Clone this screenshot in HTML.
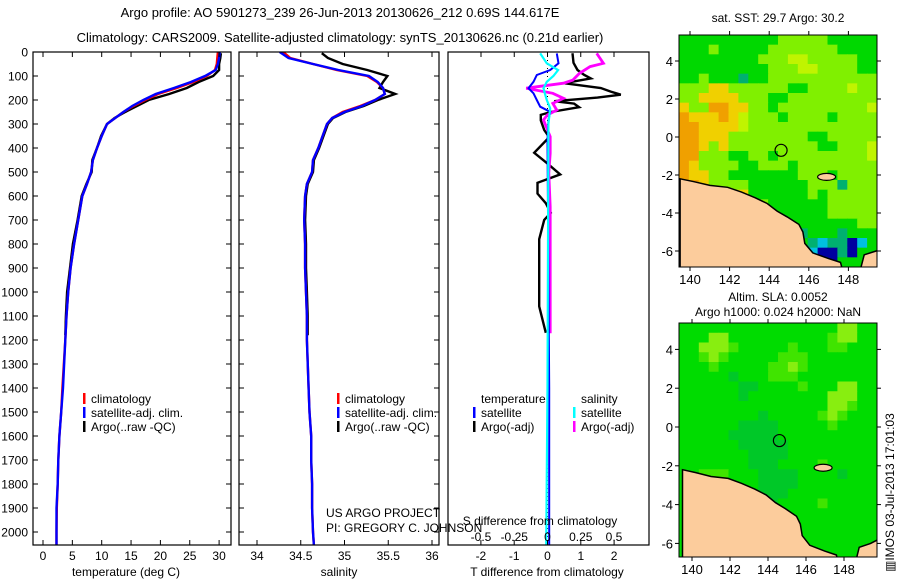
<!DOCTYPE html>
<html><head><meta charset="utf-8">
<style>
html,body{margin:0;padding:0;background:#fff;}
svg{display:block;font-family:"Liberation Sans",sans-serif;}
text{fill:#000;}
</style></head>
<body>
<svg id="fig" width="900" height="580" viewBox="0 0 900 580" xmlns="http://www.w3.org/2000/svg">
<defs>
<clipPath id="c1"><rect x="33" y="52" width="198" height="493"/></clipPath>
<clipPath id="c2"><rect x="239" y="52" width="200" height="493"/></clipPath>
<clipPath id="c3"><rect x="448" y="52" width="201" height="493"/></clipPath>
<clipPath id="cm1"><rect x="679" y="35" width="198" height="232"/></clipPath>
<clipPath id="cm2"><rect x="679" y="323" width="198" height="234"/></clipPath>
</defs>
<text x="340" y="17" font-size="13" text-anchor="middle">Argo profile: AO 5901273_239 26-Jun-2013 20130626_212 0.69S 144.617E</text>
<text x="340" y="42" font-size="13" text-anchor="middle">Climatology: CARS2009. Satellite-adjusted climatology: synTS_20130626.nc (0.21d earlier)</text>
<text x="778" y="22" font-size="12" text-anchor="middle">sat. SST: 29.7 Argo: 30.2</text>
<text x="778" y="301" font-size="12" text-anchor="middle">Altim. SLA: 0.0052</text>
<text x="778" y="316" font-size="12" text-anchor="middle">Argo h1000: 0.024 h2000: NaN</text>
<text transform="translate(894,572) rotate(-90)" font-size="12">▥IMOS 03-Jul-2013 17:01:03</text>
<g id="g1"></g>
<g id="g2"></g>
<g id="g3"></g>
<g id="m1"></g>
<g id="m2"></g>
</svg>
<script>
const climDepth=[0,25,50,75,100,125,150,175,200,225,250,275,300,350,400,450,500,550,600,700,800,900,1000,1100,1200,1400,1500,1600,1700,1800,1900,2000,2055];
const climT=[29.8,29.7,29.6,29.3,27.9,25.6,22.8,19.6,17.4,15.4,13.7,12.3,10.9,10.0,9.2,8.5,8.2,7.5,6.7,6.0,5.3,4.7,4.3,4.0,3.8,3.3,3.1,2.8,2.6,2.5,2.35,2.3,2.3];
const satT=[30.1,30.0,29.8,29.4,27.6,25.2,22.3,19.2,17.1,15.2,13.7,12.3,10.9,10.0,9.2,8.5,8.2,7.5,6.7,6.0,5.3,4.7,4.3,4.0,3.8,3.4,3.1,2.8,2.6,2.5,2.3,2.3,2.3];
const climS=[34.30,34.38,34.64,34.91,35.26,35.37,35.44,35.46,35.35,35.18,34.98,34.86,34.80,34.75,34.70,34.64,34.63,34.57,34.55,34.54,34.55,34.55,34.56,34.57,34.57,34.59,34.60,34.62,34.62,34.63,34.63,34.64,34.65];
const satS=[34.26,34.36,34.64,34.93,35.28,35.38,35.44,35.46,35.35,35.20,35.00,34.86,34.80,34.75,34.70,34.64,34.63,34.57,34.55,34.54,34.55,34.55,34.56,34.57,34.57,34.59,34.60,34.62,34.62,34.63,34.63,34.64,34.65];
const argoDepth=[5,25,50,75,100,125,150,175,200,225,250,275,300,350,400,450,500,550,600,700,800,900,1000,1100,1180];
const argoT=[30.3,30.2,30.0,30.0,29.0,26.5,24.5,21.5,18.0,16.0,14.0,12.2,10.9,9.9,9.2,8.4,8.3,7.4,6.6,5.9,5.1,4.6,4.1,3.9,3.8];
const argoS=[34.74,34.81,34.98,35.26,35.49,35.44,35.40,35.58,35.38,35.22,35.01,34.87,34.81,34.76,34.71,34.65,34.64,34.58,34.56,34.55,34.56,34.56,34.57,34.58,34.58];
const tdDepth=[5,45,75,95,110,130,150,165,178,190,205,215,230,250,262,285,325,355,420,465,510,545,590,630,670,700,780,920,1060,1170];
const tdArgo=[0.75,0.78,0.9,1.1,1.3,0.5,1.6,1.9,2.2,1.5,0.2,0.8,0.95,0.1,-0.2,-0.2,-0.1,0.05,-0.4,0.0,0.38,-0.3,-0.3,-0.05,0.1,-0.1,-0.25,-0.25,-0.25,-0.05];
const sdDepth=[6,47,61,89,117,130,151,172,193,214,242,262,283,325,353,422,505,644,783,1172];
const sdArgo=[0.37,0.42,0.32,0.24,0.19,0.12,-0.16,0.04,0.12,0.04,0.07,0.0,-0.03,0.0,0.02,0.02,0.01,0.02,0.02,0.02];
const tsDepth=[6,47,75,96,124,151,172,200,228,249,283,367,1400,2055];
const tdSat=[0.28,0.33,0.08,-0.32,-0.42,-0.57,-0.42,-0.32,-0.22,0.08,0.03,0.0,0.05,0.05];
const ssDepth=[6,47,75,100,124,151,172,200,235,300,1400,2055];
const sdSat=[-0.055,-0.005,0.08,0.044,-0.005,-0.03,-0.02,-0.005,0.02,0.007,0.0,-0.01];
const depthTicks=[0,100,200,300,400,500,600,700,800,900,1000,1100,1200,1300,1400,1500,1600,1700,1800,1900,2000];
const tTicks=[0,5,10,15,20,25,30];
const sTicks=[34,34.5,35,35.5,36];
const sTickLabels=['34','34.5','35','35.5','36'];
const tdTicks=[-2,-1,0,1,2];
const sdTicks=[-0.5,-0.25,0,0.25,0.5];
const sdTickLabels=['-0.5','-0.25','0','0.25','0.5'];
const latTicks=[4,2,0,-2,-4,-6];
const lonTicks=[140,142,144,146,148];
const sstGrid=["gggggggggglllllggggg","ggglggggglllllllgggg","gggggggglllyylllllgg","ggggggggglllyyllllgg","gglgggtgglllllllllll","lllYYllllllggllllyll","llYYYYlllgglllllllll","YllooYYllgllllllllly","oYYYoYylllgllllgllll","ooYYYYylllllllllllll","ooYYYllllllllgglllll","ooYlYlllllllllggllly","oolllggllgllllllllly","oYllllgglllgllllllll","oYYllggggggglllgllll","ooYllllggggggllltlll","YYYooYYgggggglglllll","lllYooYYlgggggglllll","lllllYYYlgggggglllll","llllllllggtgggggggll","lllllllllgggtgggtggg","lllllllllggggtcttbcg","lllllllllgggtcbbtbgg","lllllllllggggggbgggg"];
const slaGrid=["ggggggggggggggggLLgg","gggLLgggggggggglLLgg","ggLLLlggggglgggllggg","gglLlggggglllgggggg","ggglgggggllLlggggggg","gggggdggglllgggggggg","ggggggddgggglgggLLgg","ggggggdggggggggLLLgg","gggggggggggggggLLlgg","ggggggggdggggglLlggg","ggggggddddggggglgggg","gggggdddddgggggggggg","ggggggdddddggggggggg","gggggggddddggggggggg","gggggggdddgggglggggg","gglllgggddddggggdggg","gllLlgggddddgggggggg","ggllggggdddggggggggg","gggggggdddgggglggggg","ggggggggddgggggggggg","gggggggggggggggggggg","gggggggggggggggggggg","gggggggggggggggggggg","gggggggggggggggggggg"];
const coast=[[139.5,-2.2],[140.2,-2.35],[141,-2.55],[141.9,-2.65],[142.6,-2.9],[143.3,-3.2],[143.9,-3.5],[144.4,-3.9],[144.9,-4.2],[145.5,-4.6],[145.7,-5.0],[145.8,-5.6],[146.2,-6.1],[147.0,-6.4],[147.6,-6.6],[147.7,-7.0],[139.5,-7.0]];
const peninsula=[[148.6,-7.0],[148.8,-6.2],[149.4,-6.0],[150,-5.7],[150,-7.0]];
const argoPos=[144.6,-0.7];

const NS='http://www.w3.org/2000/svg';
function el(parent,tag,attrs,txt){const e=document.createElementNS(NS,tag);for(const k in attrs)e.setAttribute(k,attrs[k]);if(txt!==undefined)e.textContent=txt;parent.appendChild(e);return e;}
const yD=d=>52+d*0.24;
const xT=t=>43+t*5.87;
const xS=s=>257+(s-34)*87.5;
const xTd=t=>547.5+t*33.3;
const xSd=s=>547.5+s*133;

function line(g,xs,ds,fx,color,clip,name,w){
  const pts=xs.map((v,i)=>fx(v).toFixed(1)+','+yD(ds[i]).toFixed(1)).join(' ');
  const p=el(g,'polyline',{points:pts,fill:'none',stroke:color,'stroke-width':w||2.4,'clip-path':'url(#'+clip+')','stroke-linejoin':'miter'});
  
  
}
function box(g,x0,x1,name){
  const r=el(g,'rect',{x:x0,y:52,width:x1-x0,height:493,fill:'none',stroke:'#000','stroke-width':1.2});
  
  
}
function depthTickMarks(g,x0,x1,labels){
  depthTicks.forEach(d=>{
    const y=yD(d);
    el(g,'line',{x1:x0,y1:y,x2:x0+5,y2:y,stroke:'#000'});
    el(g,'line',{x1:x1-5,y1:y,x2:x1,y2:y,stroke:'#000'});
    if(labels){const t=el(g,'text',{x:28,y:y+4.5,'font-size':12,'text-anchor':'end'},String(d));
      
      }
  });
}
function xTickMarks(g,vals,labs,fx,ly,top){
  vals.forEach((v,i)=>{
    const x=fx(v);
    el(g,'line',{x1:x,y1:545,x2:x,y2:540,stroke:'#000'});
    if(top)el(g,'line',{x1:x,y1:52,x2:x,y2:57,stroke:'#000'});
    const t=el(g,'text',{x:x,y:ly,'font-size':12,'text-anchor':'middle'},labs[i]);
    
    
  });
}
function legend(g,x,y,items){
  items.forEach((it,i)=>{
    const yy=y+i*14;
    if(it[1]){const b=el(g,'rect',{x:x,y:yy-10,width:2.5,height:11,fill:it[1]});
      
      }
    const t=el(g,'text',{x:x+8,y:yy,'font-size':12},it[0]);
    
    
  });
}
// Panel 1
const g1=document.getElementById('g1');
line(g1,argoT,argoDepth,xT,'#000','c1','argo-temperature-line');
line(g1,climT,climDepth,xT,'#f00','c1','climatology-temperature-line');
line(g1,satT,climDepth,xT,'#00f','c1','satellite-temperature-line');
box(g1,33,231,'temperature-plot-frame');
depthTickMarks(g1,33,231,true);
xTickMarks(g1,tTicks,tTicks.map(String),xT,560,true);
legend(g1,83,403,[['climatology','#f00'],['satellite-adj. clim.','#00f'],['Argo(..raw -QC)','#000']]);
el(g1,'text',{x:126,y:576,'font-size':12,'text-anchor':'middle',},'temperature (deg C)');
// Panel 2
const g2=document.getElementById('g2');
line(g2,argoS,argoDepth,xS,'#000','c2','argo-salinity-line');
line(g2,climS,climDepth,xS,'#f00','c2','climatology-salinity-line');
line(g2,satS,climDepth,xS,'#00f','c2','satellite-salinity-line');
box(g2,239,439,'salinity-plot-frame');
depthTickMarks(g2,239,439,false);
xTickMarks(g2,sTicks,sTickLabels,xS,560,true);
legend(g2,337,403,[['climatology','#f00'],['satellite-adj. clim.','#00f'],['Argo(..raw -QC)','#000']]);
el(g2,'text',{x:339,y:576,'font-size':12,'text-anchor':'middle',},'salinity');
el(g2,'text',{x:326,y:517,'font-size':12,},'US ARGO PROJECT');
el(g2,'text',{x:326,y:532,'font-size':12,},'PI: GREGORY C. JOHNSON');
// Panel 3
const g3=document.getElementById('g3');
el(g3,'line',{x1:547.5,y1:52,x2:547.5,y2:545,stroke:'#000','stroke-dasharray':'1,3',});
line(g3,tdArgo,tdDepth,xTd,'#000','c3','argo-temperature-difference');
line(g3,sdArgo,sdDepth,xSd,'#f0f','c3','argo-salinity-difference',2.8);
line(g3,tdSat,tsDepth,xTd,'#00f','c3','satellite-temperature-difference',2);
line(g3,sdSat,ssDepth,xSd,'#0ff','c3','satellite-salinity-difference',2.2);
const r3=el(g3,'rect',{x:448,y:52,width:201,height:493,fill:'none',stroke:'#000','stroke-width':1.2});


xTickMarks(g3,tdTicks,tdTicks.map(String),xTd,560,false);
sdTicks.forEach((v,i)=>{const x=xSd(v);el(g3,'line',{x1:x,y1:52,x2:x,y2:57,stroke:'#000'});
  const t=el(g3,'text',{x:x,y:541,'font-size':12,'text-anchor':'middle'},sdTickLabels[i]);
  
  });
el(g3,'text',{x:540,y:525,'font-size':12,'text-anchor':'middle',},'S difference from climatology');
el(g3,'text',{x:547,y:576,'font-size':12,'text-anchor':'middle',},'T difference from climatology');
legend(g3,473,403,[['temperature',null],['satellite','#00f'],['Argo(-adj)','#000']]);
legend(g3,573,403,[['salinity',null],['satellite','#0ff'],['Argo(-adj)','#f0f']]);
// Maps
const sstCol={g:'#00d800',l:'#80f000',y:'#c0f400',Y:'#f0d000',o:'#f0a000',t:'#00b070',b:'#0000a0',c:'#00c0e0'};
const slaCol={g:'#00dc00',l:'#40e400',L:'#88ee10',d:'#00c828'};
function map(gid,clip,grid,cols,x0,y0,w,h,lx,ly,name){
  const g=document.getElementById(gid);
  const lonX=lon=>lx[0]+(lon-140)*lx[1];
  const latY=lat=>ly[0]-lat*ly[1];
  const cg=el(g,'g',{'clip-path':'url(#'+clip+')'});
  const nr=grid.length,nc=grid[0].length,cw=w/nc,ch=h/nr;
  grid.forEach((row,r)=>{for(let c=0;c<nc;c++){el(cg,'rect',{x:x0+c*cw,y:y0+r*ch,width:cw+0.6,height:ch+0.6,fill:cols[row[c]]||cols.g});}});
  [coast,peninsula].forEach(poly=>{const p=el(cg,'polygon',{points:poly.map(q=>lonX(q[0]).toFixed(1)+','+latY(q[1]).toFixed(1)).join(' '),fill:'#fccc9c',stroke:'#000','stroke-width':1.5});
    
    });
  el(cg,'ellipse',{cx:lonX(146.9),cy:latY(-2.1),rx:9,ry:3.5,fill:'#fccc9c',stroke:'#000','stroke-width':1.2,});
  el(cg,'circle',{cx:lonX(argoPos[0]),cy:latY(argoPos[1]),r:6,fill:'none',stroke:'#000','stroke-width':1.2,});
  const fr=el(g,'rect',{x:x0,y:y0,width:w,height:h,fill:'none',stroke:'#000'});
  
  
  latTicks.forEach(v=>{const y=latY(v);el(g,'line',{x1:x0-4,y1:y,x2:x0,y2:y,stroke:'#000'});el(g,'line',{x1:x0+w,y1:y,x2:x0+w+4,y2:y,stroke:'#000'});
    const t=el(g,'text',{x:673,y:y+5,'font-size':13,'text-anchor':'end'},String(v));
    
    });
  lonTicks.forEach(v=>{const x=lonX(v);el(g,'line',{x1:x,y1:y0-4,x2:x,y2:y0,stroke:'#000'});el(g,'line',{x1:x,y1:y0+h,x2:x,y2:y0+h+4,stroke:'#000'});
    const t=el(g,'text',{x:x,y:y0+h+17,'font-size':13,'text-anchor':'middle'},String(v));
    
    });
}
map('m1','cm1',sstGrid,sstCol,679,35,198,232,[690,19.8],[137,19],'sst-map');
map('m2','cm2',slaGrid,slaCol,679,323,198,234,[692,19],[427,19.4],'sla-map');
</script>
</body></html>
